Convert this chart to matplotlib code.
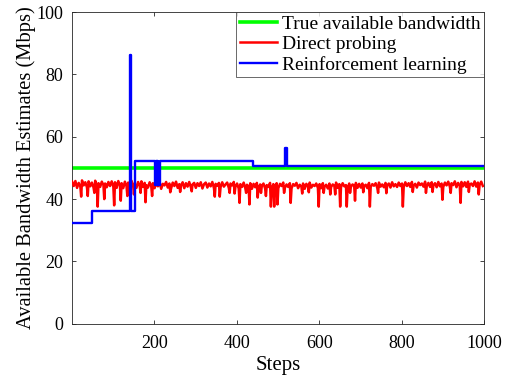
import numpy as np
import matplotlib
matplotlib.use("Agg")
import matplotlib.pyplot as plt

plt.rcParams['font.family'] = ['Liberation Serif', 'DejaVu Serif']

# ---- data ----
true_steps = [1, 1000]
true_bw = [50, 50]

# Direct probing estimates, base band read every 4 steps (1, 5, 9, ..., 997)
probe_base_steps = list(range(1, 1000, 4))
probe_base_bw = [
    45.6,44.2,45.8,43.6,45.2,44.0,46.0,44.4,45.4,43.8,45.7,44.1,45.3,43.7,45.9,44.3,45.1,43.9,45.6,44.5,45.0,43.8,45.5,44.2,45.7,
    44.0,45.4,43.6,45.8,44.3,45.1,43.5,45.6,44.1,45.3,43.8,45.9,44.4,45.0,43.6,45.5,44.2,45.7,43.9,45.2,44.5,43.7,45.4,44.0,45.1,
    43.5,45.2,44.1,45.6,43.3,44.9,44.4,45.5,43.7,45.0,43.4,45.3,44.2,45.6,43.6,44.8,44.3,45.4,43.5,45.1,44.0,45.5,43.8,44.7,45.2,
    43.6,45.1,44.2,45.4,43.4,44.8,45.3,43.7,45.0,44.1,45.5,43.5,44.9,44.3,45.2,43.8,45.4,44.0,44.7,45.3,43.6,45.0,44.4,45.5,43.9,
    45.0,43.4,44.8,43.9,45.3,43.5,44.6,44.1,45.1,43.3,44.9,43.8,45.2,43.6,44.7,44.2,45.0,43.4,44.5,43.9,45.2,43.5,44.8,44.0,45.1,
    43.5,44.9,44.2,45.3,43.6,44.7,43.9,45.1,43.4,44.8,44.3,45.2,43.5,44.6,44.0,45.0,43.3,44.9,44.1,45.3,43.7,44.6,44.2,45.0,43.6,
    44.8,43.5,45.1,44.0,44.6,43.4,45.0,43.9,44.7,44.2,45.3,43.6,44.8,43.8,45.1,44.1,44.5,43.5,45.0,43.9,44.7,44.3,45.2,43.6,44.9,
    43.7,45.0,44.2,44.6,43.5,45.2,43.9,44.8,44.3,45.1,43.6,45.3,44.0,44.7,43.8,45.2,44.4,45.0,43.7,45.4,44.1,44.8,43.9,45.3,44.2,
    45.0,43.8,45.4,44.2,45.1,43.9,45.5,44.3,44.9,43.7,45.3,44.5,45.0,44.0,45.6,44.2,45.2,43.9,45.4,44.4,45.1,43.8,45.5,44.1,45.0,
    43.9,45.3,44.4,45.6,44.0,45.1,44.5,45.7,43.8,45.2,44.3,45.5,44.1,45.4,43.9,45.6,44.6,45.0,44.2,45.7,44.0,45.3,44.5,45.6,44.2,
]
# Direct probing: single-step downward dips
probe_dip_steps = [23, 39, 55, 63, 79, 103, 119, 135, 151, 167, 179, 195, 239, 263, 291,
                   347, 359, 383, 395, 407, 423, 431, 451, 459, 471, 483, 491, 499, 515, 531,
                   559, 575, 599, 611, 627, 639, 651, 667, 675, 687, 707, 723, 743, 763, 803,
                   827, 859, 875, 899, 919, 943, 963, 987]
probe_dip_bw = [40.8, 41.0, 42.0, 37.6, 40.0, 38.0, 39.5, 41.0, 41.5, 42.0, 39.0, 41.0, 42.2, 42.3, 42.5,
                40.8, 40.8, 42.0, 41.8, 38.8, 42.0, 38.3, 40.5, 42.0, 41.0, 37.6, 37.6, 38.3, 42.0, 38.8,
                41.8, 42.2, 37.6, 42.0, 41.5, 41.5, 37.6, 37.6, 42.0, 39.5, 42.2, 37.6, 42.0, 41.9, 37.6,
                42.3, 42.0, 42.3, 39.8, 42.0, 38.8, 42.3, 41.5]

# Reinforcement learning estimates (change points, held until next step)
rl_steps = [1, 50, 141, 143, 154, 202, 204, 206, 208, 210, 213, 440, 518, 521, 1000]
rl_bw = [32.3, 36.3, 86.2, 36.3, 52.3, 44.5, 52.3, 44.5, 52.3, 44.5, 52.3, 50.5, 56.5, 50.5, 50.5]

labels = ['True available bandwidth', 'Direct probing', 'Reinforcement learning']
xticks = [200, 400, 600, 800, 1000]
yticks = [0, 20, 40, 60, 80, 100]

# merge base band and dips into one series ordered by step
probe = sorted(zip(probe_base_steps + probe_dip_steps, probe_base_bw + probe_dip_bw))
probe_steps = [p[0] for p in probe]
probe_bw = [p[1] for p in probe]

# ---- plot ----
fig = plt.figure(figsize=(5.15, 3.81), dpi=100)
ax = fig.add_axes([0.140, 0.150, 0.800, 0.8185])

ax.plot(true_steps, true_bw, color='#00ff00', lw=2.6, label=labels[0], zorder=2)
ax.plot(probe_steps, probe_bw, color='#ff0000', lw=1.8, label=labels[1], zorder=3)
ax.plot(rl_steps, rl_bw, color='#0000ff', lw=1.7, drawstyle='steps-post', label=labels[2], zorder=4)

ax.set_xlim(1, 1000)
ax.set_ylim(0, 100)
ax.set_xticks(xticks)
ax.set_yticks(yticks)
ax.tick_params(direction='in', top=True, right=True, labelsize=13, length=3,
               width=0.6, colors='#262626', labelcolor='black')
ax.tick_params(axis='x', pad=8)
ax.tick_params(axis='y', pad=6.5)
for s in ax.spines.values():
    s.set_color('#262626')
    s.set_linewidth(0.6)

ax.set_xlabel('Steps', fontsize=15, labelpad=3)
ax.set_ylabel('Available Bandwidth Estimates (Mbps)', fontsize=14.8, labelpad=0.5)

leg = ax.legend(loc='upper right', fontsize=14, borderaxespad=0, frameon=True,
                fancybox=False, handlelength=1.9, handletextpad=0.3,
                labelspacing=0.14, borderpad=0.16)
leg.get_frame().set_edgecolor('#262626')
leg.get_frame().set_linewidth(0.6)

fig.savefig('out.png', dpi=100)
